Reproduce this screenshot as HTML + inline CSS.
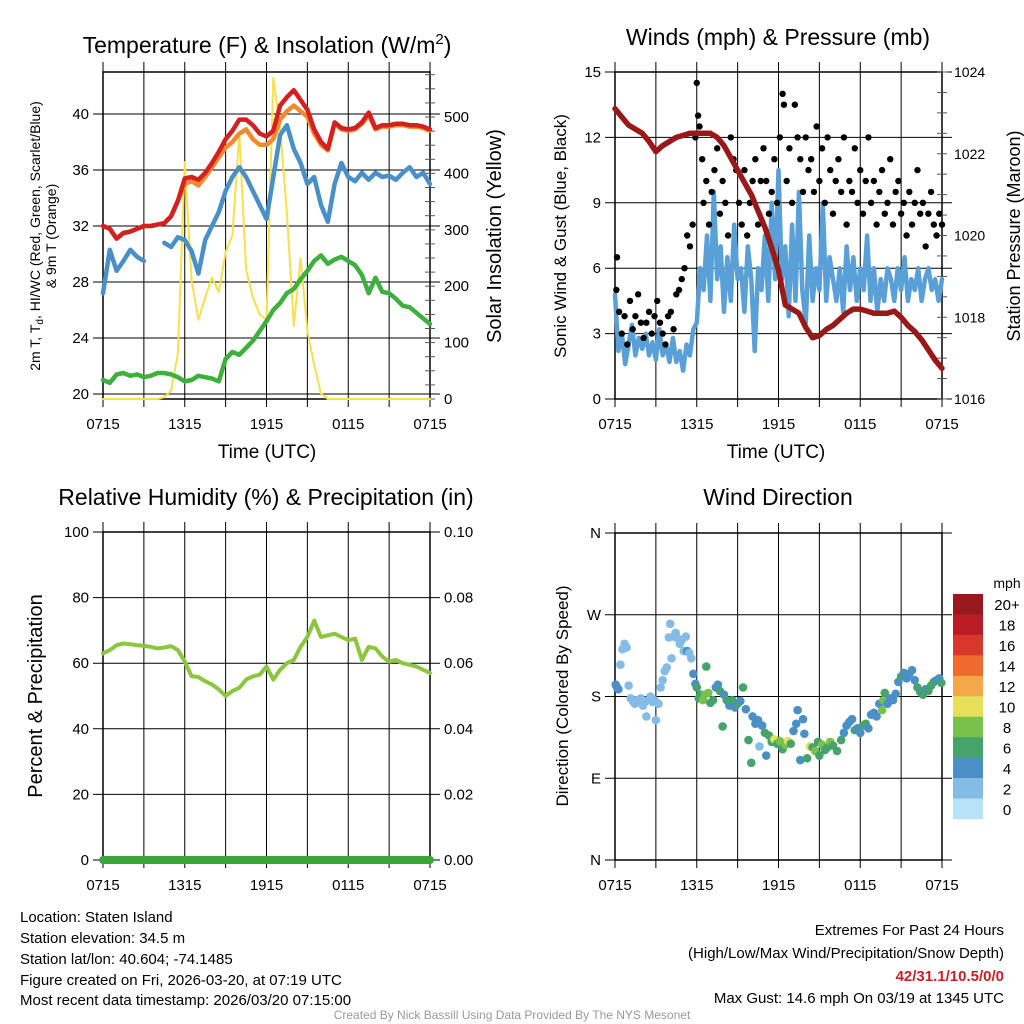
<!DOCTYPE html>
<html><head><meta charset="utf-8"><style>
html,body{margin:0;padding:0;background:#fff;}
svg{display:block;font-family:"Liberation Sans",sans-serif;}
</style></head><body>
<svg id="root" width="1024" height="1024" viewBox="0 0 1024 1024">
<g id="p1"></g>
<g id="p2"></g>
<g id="p3"></g>
<g id="p4"></g>

<text x="267" y="53" font-size="23" text-anchor="middle">Temperature (F) &amp; Insolation (W/m<tspan dy="-9" font-size="15">2</tspan><tspan dy="9">)</tspan></text>
<text x="778" y="45" font-size="23" text-anchor="middle">Winds (mph) &amp; Pressure (mb)</text>
<text x="266" y="505" font-size="23" text-anchor="middle">Relative Humidity (%) &amp; Precipitation (in)</text>
<text x="778" y="505" font-size="23" text-anchor="middle">Wind Direction</text>

<text x="267" y="458" font-size="19" text-anchor="middle">Time (UTC)</text>
<text x="776" y="458" font-size="19" text-anchor="middle">Time (UTC)</text>

<text transform="translate(40,236) rotate(-90)" font-size="14" text-anchor="middle">2m T, T<tspan font-size="10" dy="3">d</tspan><tspan dy="-3">, HI/WC (Red, Green, Scarlet/Blue)</tspan></text>
<text transform="translate(56,236) rotate(-90)" font-size="14" text-anchor="middle">&amp; 9m T (Orange)</text>
<text transform="translate(501,236) rotate(-90)" font-size="20" text-anchor="middle">Solar Insolation (Yellow)</text>
<text transform="translate(566,236) rotate(-90)" font-size="17" text-anchor="middle">Sonic Wind &amp; Gust (Blue, Black)</text>
<text transform="translate(1020,236) rotate(-90)" font-size="18" text-anchor="middle">Station Pressure (Maroon)</text>
<text transform="translate(42,696) rotate(-90)" font-size="20" text-anchor="middle">Percent &amp; Precipitation</text>
<text transform="translate(568,696) rotate(-90)" font-size="17" text-anchor="middle">Direction (Colored By Speed)</text>

<g font-size="15">
<text x="20" y="922">Location: Staten Island</text>
<text x="20" y="943">Station elevation: 34.5 m</text>
<text x="20" y="964">Station lat/lon: 40.604; -74.1485</text>
<text x="20" y="985">Figure created on Fri, 2026-03-20, at 07:19 UTC</text>
<text x="20" y="1005">Most recent data timestamp: 2026/03/20 07:15:00</text>
</g>
<g font-size="15" text-anchor="end">
<text x="1004" y="935">Extremes For Past 24 Hours</text>
<text x="1004" y="958">(High/Low/Max Wind/Precipitation/Snow Depth)</text>
<text x="1004" y="981" fill="#c8202a" font-weight="bold">42/31.1/10.5/0/0</text>
<text x="1004" y="1003">Max Gust: 14.6 mph On 03/19 at 1345 UTC</text>
</g>
<text x="512" y="1019" font-size="12" fill="#999" text-anchor="middle">Created By Nick Bassill Using Data Provided By The NYS Mesonet</text>
</svg>
<script>
// ---- data (30-minute samples, 0715 -> 0715 UTC) ----
const timeLabels = ["0715","1315","1915","0115","0715"];
const tempRed = [32.0,31.8,31.1,31.5,31.6,31.8,32.0,32.0,32.1,32.2,32.7,33.8,35.4,35.5,35.3,35.8,36.5,37.3,38.2,38.8,39.6,39.6,39.2,38.6,38.4,38.8,40.6,41.2,41.7,41.0,40.3,38.9,38.0,37.5,39.4,39.0,38.9,39.0,39.4,40.1,39.0,39.2,39.2,39.3,39.3,39.2,39.2,39.1,38.9];
const tempOrange = [32.0,31.8,31.1,31.5,31.6,31.8,32.0,32.0,32.1,32.2,32.7,33.8,35.0,35.2,34.9,35.5,36.2,36.9,37.6,38.0,38.6,38.9,38.2,37.8,37.8,38.2,39.6,40.2,40.6,40.2,39.8,38.6,37.8,37.4,39.3,38.9,38.8,38.9,39.3,39.9,38.9,39.1,39.1,39.2,39.2,39.1,39.1,39.0,38.8];
const hiwcBlue = [27.2,30.3,28.8,29.5,30.3,29.8,29.5,null,null,30.8,30.5,31.2,31.0,30.2,28.6,31.0,32.0,33.0,34.5,35.5,36.2,35.5,34.5,33.5,32.5,35.5,38.5,39.2,37.5,36.5,35.0,35.5,33.5,32.3,35.0,36.5,35.5,35.2,35.8,35.3,35.8,35.5,35.6,35.3,35.8,36.2,35.5,35.8,35.0];
const dewGreen = [21.0,20.8,21.4,21.5,21.3,21.4,21.2,21.3,21.5,21.5,21.4,21.2,20.9,21.0,21.3,21.2,21.1,20.9,22.5,23.0,22.8,23.3,23.8,24.5,25.2,26.0,26.5,27.2,27.5,28.2,28.8,29.5,29.9,29.3,29.6,29.8,29.5,29.2,28.5,27.2,28.3,27.3,27.2,26.8,26.3,26.2,25.8,25.4,25.0];
const insolation = [0,0,0,0,0,0,0,0,0,3,15,80,420,210,140,180,215,190,260,290,470,230,180,150,140,570,480,330,130,250,120,60,10,0,0,0,0,0,0,0,0,0,0,0,0,0,0,0,0];
const tempTicks = [20,24,28,32,36,40];
const insTicks = [0,100,200,300,400,500];

// sonic wind: 15-minute samples
const windSpeed = [4.8,2.2,3.0,1.6,2.5,3.4,2.0,2.8,2.3,3.0,2.0,2.6,1.8,3.2,2.0,2.5,1.7,2.8,1.7,2.2,1.3,2.5,2.0,3.2,3.5,6.0,5.0,7.5,4.5,9.5,5.5,7.0,4.0,6.5,4.5,8.0,5.5,6.0,4.0,7.0,5.5,2.2,6.0,5.0,7.5,4.5,9.0,5.5,10.5,5.5,7.0,3.8,8.0,4.5,9.5,5.0,3.5,7.5,4.5,6.0,5.0,9.0,4.5,6.5,5.5,4.5,6.0,4.0,7.0,5.0,6.5,4.5,6.0,5.0,7.5,4.5,6.0,4.0,5.5,4.5,6.0,5.5,4.5,6.0,5.0,6.5,4.5,5.5,5.0,6.0,4.5,5.5,6.0,5.0,5.5,4.5,5.5];
const pressure = [1023.1,1022.9,1022.7,1022.6,1022.5,1022.3,1022.05,1022.2,1022.3,1022.4,1022.45,1022.5,1022.5,1022.5,1022.5,1022.4,1022.2,1021.9,1021.6,1021.3,1021.0,1020.6,1020.2,1019.7,1019.15,1018.3,1018.2,1018.1,1017.75,1017.5,1017.55,1017.7,1017.8,1017.95,1018.1,1018.2,1018.2,1018.15,1018.1,1018.1,1018.1,1018.15,1018.0,1017.8,1017.65,1017.45,1017.2,1016.95,1016.75];
const gustHours = [0.1,0.15,0.3,0.5,0.7,0.9,1.1,1.3,1.5,1.7,1.9,2.1,2.3,2.5,2.7,2.9,3.1,3.3,3.5,3.7,3.9,4.1,4.3,4.5,4.7,4.9,5.1,5.3,5.5,5.7,5.9,6.0,6.1,6.2,6.4,6.5,6.7,6.9,7.1,7.3,7.5,7.7,7.9,8.1,8.3,8.5,8.7,8.9,9.1,9.3,9.5,9.7,9.9,10.1,10.3,10.5,10.7,10.9,11.1,11.3,11.5,11.7,11.9,12.1,12.3,12.4,12.6,12.8,13.0,13.2,13.4,13.6,13.8,14.0,14.2,14.4,14.6,14.8,15.0,15.2,15.4,15.6,15.8,16.0,16.2,16.4,16.6,16.8,17.0,17.2,17.4,17.6,17.8,18.0,18.2,18.4,18.6,18.8,19.0,19.2,19.4,19.6,19.8,20.0,20.2,20.4,20.6,20.8,21.0,21.2,21.4,21.6,21.8,22.0,22.2,22.4,22.6,22.8,23.0,23.2,23.4,23.6,23.8,24];
const gustMph = [5,6.5,4,3,3.8,2.5,4.5,3.2,3.8,4.8,3.5,2.8,3.5,4,3,3.8,4.5,3.5,3,2.5,3.8,4,3.2,4.8,5,5.5,6,7.5,7,8,12,14.5,13,12.5,11,9,10,8,9.5,10.5,11.5,8.5,10,9,7.5,12,11,10.5,9,8,10.5,7.5,9,10,11,8,10,11.5,10,8.5,9.5,11,9,12,14,13.5,10,11.5,9,13.5,12,11,9.5,12,10.5,11,9.5,12.5,10,11.5,9,12,10.5,8.5,10,11,9.5,12,8,10,9.5,11.5,9,10.5,8.5,10,12,9,10,8,9.5,10.5,8.5,9,11,8,9.5,10,8.5,9,7.5,9.5,8,9,10.5,8.5,9,7,8.5,9.5,8,7.5,8.5,8];
const windTicks = [0,3,6,9,12,15];
const presTicks = [1016,1018,1020,1022,1024];

const rhValues = [63,64,65.5,66,65.8,65.5,65.3,65,64.5,64.8,65.2,64,60.5,56,55.8,54.5,53.5,52,50,51.5,52.5,55,56,56.5,59,55,58,60,61,65,68,73,68,68.5,69,68,67,67.5,61,65,64.5,62,60.5,61,60,59.5,59,58,57];
const precipValues = [0,0,0,0,0,0,0,0,0,0,0,0,0,0,0,0,0,0,0,0,0,0,0,0,0,0,0,0,0,0,0,0,0,0,0,0,0,0,0,0,0,0,0,0,0,0,0,0,0];
const rhTicks = [0,20,40,60,80,100];
const precipTicks = ["0.00","0.02","0.04","0.06","0.08","0.10"];

const dirHours = [0.05,0.15,0.25,0.4,0.55,0.7,0.85,1.0,1.15,1.3,1.45,1.6,1.75,1.9,2.05,2.2,2.3,2.45,2.6,2.75,2.9,3.0,3.2,3.35,3.5,3.65,3.8,3.95,4.05,4.15,4.3,4.45,4.6,4.75,4.9,5.05,5.2,5.3,5.45,5.6,5.75,5.9,6.0,6.15,6.3,6.45,6.6,6.7,6.85,7.0,7.2,7.4,7.55,7.7,7.9,8.0,8.2,8.4,8.6,8.8,9.0,9.2,9.4,9.6,9.8,10.0,10.1,10.3,10.5,10.6,10.8,11.0,11.1,11.3,11.5,11.7,11.9,12.1,12.3,12.5,12.7,12.9,13.1,13.3,13.4,13.6,13.8,13.9,14.1,14.3,14.5,14.7,14.9,15.0,15.2,15.4,15.6,15.8,16.0,16.3,16.6,16.8,17.0,17.2,17.4,17.6,17.8,18.0,18.2,18.4,18.6,18.8,19.0,19.2,19.4,19.6,19.7,19.8,20.0,20.2,20.4,20.6,20.8,21.0,21.2,21.4,21.6,21.8,22.0,22.2,22.4,22.6,22.8,23.0,23.2,23.4,23.6,23.8,23.95];
const dirDeg = [193,190,188,215,232,238,234,192,178,175,172,176,174,178,170,174,158,176,180,174,176,154,172,190,198,208,212,245,260,222,246,250,244,238,242,230,246,230,228,222,205,194,190,178,182,176,182,213,184,173,176,190,193,186,147,182,176,170,176,168,172,175,190,166,132,107,158,150,154,125,148,140,115,137,130,133,128,131,122,127,131,128,142,150,165,110,155,139,112,125,124,120,130,115,127,121,124,130,126,120,132,140,148,152,155,143,145,140,148,150,145,160,162,158,172,165,176,184,172,178,176,183,196,202,206,200,205,209,198,190,185,182,188,186,192,196,198,200,195];
const dirSpeed = [4,4,3,2,2,2,2,2,2,2,2,2,2,2,2,2,2,2,2,2,2,2,2,2,2,2,1,2,1,2,2,2,2,2,2,2,2,4,2,2,4,4,6,6,6,8,8,6,7,6,6,3,4,6,6,4,6,4,6,4,6,4,6,4,6,6,4,4,4,2,4,6,4,6,6,10,6,8,6,8,10,6,4,4,4,4,4,4,6,10,6,8,6,6,8,6,6,7,6,6,6,4,4,4,4,6,4,4,6,6,4,4,4,4,4,8,8,6,4,4,4,4,4,6,4,4,4,4,4,6,6,6,4,6,6,6,4,4,6];
const speedLabels = ["20+","18","16","14","12","10","8","6","4","2","0"];
const speedColors = ["#961a1d","#bb1d26","#d8372b","#ee6a2d","#f5a84a","#e6e05a","#7ac14c","#47a36c","#4a8fc6","#84bce6","#b8e2f7"];

// ---- helpers ----
const NS="http://www.w3.org/2000/svg";
function mk(parent,tag,attrs){const e=document.createElementNS(NS,tag);for(const k in attrs)e.setAttribute(k,attrs[k]);parent.appendChild(e);return e;}
function lin(d0,d1,r0,r1){return v=>r0+(v-d0)*(r1-r0)/(d1-d0);}

function frame(g,L,R,T,B,name){
  const x=lin(0,24,L,R);
  for(let h=0;h<=24;h+=3){
    const ln=mk(g,'line',{x1:x(h),x2:x(h),y1:T-10,y2:B+8,stroke:'#000','stroke-width':1});
    
    
  }
  timeLabels.forEach((t,i)=>{
    const tx=mk(g,'text',{x:x(i*6),y:B+30,'font-size':15,'text-anchor':'middle'});
    tx.textContent=t;
    
    
  });
  const box=mk(g,'rect',{x:L,y:T,width:R-L,height:B-T,fill:'none',stroke:'#000','stroke-width':1.5});
  
  
  return x;
}
function hgrid(g,L,R,y,vals,labels,side,name){
  vals.forEach((v,i)=>{
    const ln=mk(g,'line',{x1:L-10,x2:R+10,y1:y(v),y2:y(v),stroke:'#000','stroke-width':1});
    
    
    const tx=mk(g,'text',{x:side==='left'?L-14:R+14,y:y(v)+5,'font-size':15,'text-anchor':side==='left'?'end':'start'});
    tx.textContent=labels[i];
    
    
  });
}
function minorTicks(g,L,R,y,lo,hi,step,side){
  for(let v=lo;v<=hi+1e-9;v+=step){
    const xx=side==='left'?L:R;
    mk(g,'line',{x1:xx-5,x2:xx+5,y1:y(v),y2:y(v),stroke:'#555','stroke-width':1});
  }
}
function line(g,arr,x,y,color,w,name,perHour){
  const ph=perHour||2;
  let d='',pen=false;
  arr.forEach((v,i)=>{
    if(v===null){pen=false;return;}
    d+=(pen?'L':'M')+x(i/ph).toFixed(1)+','+y(v).toFixed(1);pen=true;
  });
  const p=mk(g,'path',{d:d,fill:'none',stroke:color,'stroke-width':w,'stroke-linejoin':'round','stroke-linecap':'round'});
  
  
}

// ---- panel 1 ----
(function(){
  const g=document.getElementById('p1');
  const L=103,R=430,T=72,B=399;
  const x=frame(g,L,R,T,B,'temperature');
  const yT=lin(20,40,394,114);
  const yI=lin(0,500,399,117);
  hgrid(g,L,R,yT,tempTicks,tempTicks.map(String),'left','temperature-y');
  insTicks.forEach(v=>{
    const tx=mk(g,'text',{x:R+14,y:yI(v)+5,'font-size':15});
    tx.textContent=v;
    
    
  });
  minorTicks(g,L,R,yI,0,575,25,'right');
  line(g,insolation,x,yI,'#f7e04a',2,'insolation-line');
  line(g,dewGreen,x,yT,'#3db03d',4.5,'dewpoint-line');
  line(g,hiwcBlue,x,yT,'#4a90c8',4.5,'heat-index-windchill-line');
  line(g,tempOrange,x,yT,'#f28a30',4.5,'temp-9m-line');
  line(g,tempRed,x,yT,'#d42020',4.5,'temp-2m-line');
})();

// ---- panel 2 ----
(function(){
  const g=document.getElementById('p2');
  const L=615,R=942,T=72,B=399;
  const x=frame(g,L,R,T,B,'winds');
  const yW=lin(0,15,399,72);
  const yP=lin(1016,1024,399,72);
  hgrid(g,L,R,yW,windTicks,windTicks.map(String),'left','wind-y');
  presTicks.forEach(v=>{
    const tx=mk(g,'text',{x:R+12,y:yP(v)+5,'font-size':14});
    tx.textContent=v;
    
    
  });
  minorTicks(g,L,R,yP,1016,1024,0.5,'right');
  line(g,windSpeed,x,yW,'#5aa0d8',4.5,'sonic-wind-line',4);
  gustHours.forEach((h,i)=>{
    const c=mk(g,'circle',{cx:x(h),cy:yW(gustMph[i]),r:3.2,fill:'#000'});
    
    
  });
  line(g,pressure,x,yP,'#9a1818',5.5,'pressure-line');
})();

// ---- panel 3 ----
(function(){
  const g=document.getElementById('p3');
  const L=103,R=430,T=532,B=860;
  const x=frame(g,L,R,T,B,'humidity');
  const yR=lin(0,100,860,532);
  const yPr=lin(0,0.1,860,532);
  hgrid(g,L,R,yR,rhTicks,rhTicks.map(String),'left','humidity-y');
  precipTicks.forEach(v=>{
    const tx=mk(g,'text',{x:R+14,y:yPr(parseFloat(v))+5,'font-size':15});
    tx.textContent=v;
    
    
  });
  line(g,rhValues,x,yR,'#8cc63f',4,'humidity-line');
  line(g,precipValues,x,yPr,'#3aa63a',8,'precip-line');
})();

// ---- panel 4 ----
(function(){
  const g=document.getElementById('p4');
  const L=615,R=942,T=533,B=860;
  const x=frame(g,L,R,T,B,'direction');
  const yD=lin(0,360,860,533);
  hgrid(g,L,R,yD,[0,90,180,270,360],['N','E','S','W','N'],'left','direction-y');
  function col(s){let k=Math.round(s/2);if(k>10)k=10;if(k<0)k=0;return speedColors[10-k];}
  dirHours.forEach((h,i)=>{
    const c=mk(g,'circle',{cx:x(h),cy:yD(dirDeg[i]),r:4.3,fill:col(dirSpeed[i])});
    
    
  });
  const cb=mk(g,'g',{});
  
  
  const h=225/11;
  speedColors.forEach((c,i)=>{
    const r=mk(cb,'rect',{x:953,y:594+i*h,width:30,height:h+0.3,fill:c});
    
    
    const t=mk(cb,'text',{x:1007,y:594+i*h+h/2+6,'font-size':15,'text-anchor':'middle'});
    t.textContent=speedLabels[i];
    
    
  });
  const u=mk(cb,'text',{x:1007,y:588,'font-size':14,'text-anchor':'middle'});
  u.textContent='mph';
  
  
})();
</script>
</body></html>
